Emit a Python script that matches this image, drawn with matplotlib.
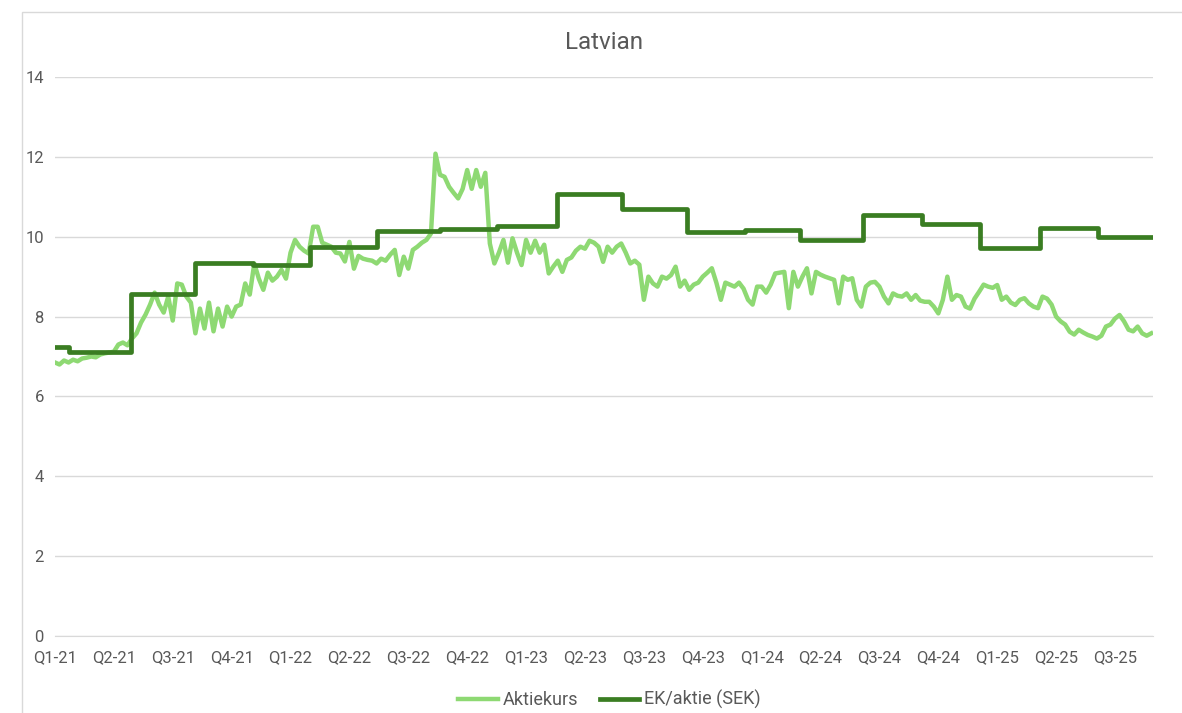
import matplotlib.pyplot as plt
import matplotlib.patches as patches
import numpy as np

plt.rcParams['font.family'] = ['Roboto', 'DejaVu Sans']

TITLE = "Latvian"
QUARTER_LABELS = ["Q1-21", "Q2-21", "Q3-21", "Q4-21", "Q1-22", "Q2-22", "Q3-22", "Q4-22",
                  "Q1-23", "Q2-23", "Q3-23", "Q4-23", "Q1-24", "Q2-24", "Q3-24", "Q4-24",
                  "Q1-25", "Q2-25", "Q3-25"]
WEEKS_PER_QUARTER = 13
END_WEEK = 242.4

# weekly close, Aktiekurs (SEK), week 0 = start of Q1-21
aktiekurs = [
    6.85, 6.80, 6.90, 6.85, 6.92, 6.88, 6.95, 6.97, 7.00, 6.98,
    7.05, 7.08, 7.10, 7.12, 7.30, 7.35, 7.28, 7.45, 7.58, 7.85,
    8.05, 8.30, 8.60, 8.30, 8.10, 8.50, 7.90, 8.83, 8.80, 8.50,
    8.35, 7.58, 8.20, 7.70, 8.35, 7.63, 8.20, 7.75, 8.25, 8.00,
    8.25, 8.30, 8.83, 8.55, 9.33, 8.95, 8.67, 9.10, 8.90, 9.00,
    9.17, 8.95, 9.60, 9.92, 9.75, 9.65, 9.58, 10.25, 10.25, 9.85,
    9.80, 9.75, 9.60, 9.58, 9.38, 9.87, 9.20, 9.52, 9.45, 9.42,
    9.40, 9.33, 9.45, 9.40, 9.55, 9.67, 9.04, 9.50, 9.20, 9.67,
    9.75, 9.85, 9.92, 10.08, 12.08, 11.55, 11.50, 11.25, 11.10, 10.96,
    11.20, 11.67, 11.20, 11.67, 11.25, 11.60, 9.83, 9.33, 9.60, 9.92,
    9.35, 9.96, 9.60, 9.29, 9.92, 9.60, 9.90, 9.60, 9.80, 9.08,
    9.25, 9.40, 9.12, 9.42, 9.48, 9.65, 9.75, 9.70, 9.90, 9.85,
    9.75, 9.37, 9.75, 9.60, 9.75, 9.83, 9.60, 9.33, 9.40, 9.30,
    8.42, 9.00, 8.83, 8.75, 9.00, 8.95, 9.04, 9.25, 8.75, 8.90,
    8.67, 8.80, 8.85, 9.00, 9.10, 9.21, 8.85, 8.42, 8.85, 8.80,
    8.75, 8.85, 8.70, 8.42, 8.30, 8.75, 8.75, 8.60, 8.80, 9.08,
    9.10, 9.12, 8.21, 9.12, 8.75, 9.00, 9.21, 8.58, 9.12, 9.05,
    9.00, 8.96, 8.92, 8.33, 9.00, 8.92, 8.96, 8.42, 8.25, 8.75,
    8.85, 8.87, 8.75, 8.50, 8.33, 8.58, 8.52, 8.50, 8.58, 8.42,
    8.54, 8.40, 8.37, 8.37, 8.25, 8.08, 8.42, 9.00, 8.42, 8.54,
    8.50, 8.25, 8.20, 8.45, 8.62, 8.80, 8.75, 8.72, 8.79, 8.42,
    8.50, 8.35, 8.29, 8.42, 8.46, 8.33, 8.25, 8.21, 8.50, 8.45,
    8.30, 8.00, 7.88, 7.80, 7.62, 7.55, 7.67, 7.60, 7.54, 7.50,
    7.45, 7.52, 7.75, 7.80, 7.95, 8.04, 7.88, 7.67, 7.63, 7.75,
    7.58, 7.52, 7.58,
]

# EK/aktie, week from which each reported value applies
ek_week = [0, 3.1, 16.8, 30.9, 43.7, 56.3, 71.1, 85.0, 97.6, 110.8,
           125.2, 139.5, 152.3, 164.5, 178.4, 191.4, 204.2, 217.4, 230.2]
ek_aktie = [7.25, 7.12, 8.56, 9.33, 9.30, 9.73, 10.15, 10.19, 10.28, 11.08,
            10.70, 10.13, 10.16, 9.93, 10.54, 10.32, 9.71, 10.22, 10.00]

LIGHT = '#8ED973'
DARK = '#3A7D22'
GREY_TXT = '#595959'
GRID = '#D9D9D9'

fig = plt.figure(figsize=(11.82, 7.13), dpi=100)
fig.patches.append(patches.Rectangle((0.0186, -0.1), 1.1, 1.0835, transform=fig.transFigure,
                                     fill=False, edgecolor=GRID, linewidth=1))
ax = fig.add_axes([0.0465, 0.108, 0.929, 0.784])

weeks = np.arange(len(aktiekurs))
ax.plot(weeks, aktiekurs, color=LIGHT, linewidth=3.2, solid_joinstyle='round',
        label='Aktiekurs', zorder=3)
ax.plot(ek_week + [END_WEEK], ek_aktie + [ek_aktie[-1]], drawstyle='steps-post',
        color=DARK, linewidth=3.4, label='EK/aktie (SEK)', zorder=4)

ax.set_xlim(0, END_WEEK)
ax.set_ylim(0, 14)
ax.set_yticks(np.arange(0, 15, 2))
ax.set_xticks(np.arange(len(QUARTER_LABELS)) * WEEKS_PER_QUARTER)
ax.set_xticklabels(QUARTER_LABELS)
ax.grid(axis='y', color=GRID, linewidth=1)
ax.set_axisbelow(True)
for s in ['top', 'right', 'left']:
    ax.spines[s].set_visible(False)
ax.spines['bottom'].set_color(GRID)
ax.tick_params(axis='both', length=0, labelsize=12, labelcolor=GREY_TXT)
ax.tick_params(axis='x', pad=10)
ax.tick_params(axis='y', pad=8)

ax.set_title(TITLE, fontsize=17.5, color=GREY_TXT, pad=20)

ax.legend(loc='upper center', bbox_to_anchor=(0.505, -0.068), ncol=2, frameon=False,
          fontsize=13, labelcolor=GREY_TXT, handlelength=2.2, handletextpad=0.25,
          columnspacing=1.2)

fig.savefig('out.png', dpi=100)
